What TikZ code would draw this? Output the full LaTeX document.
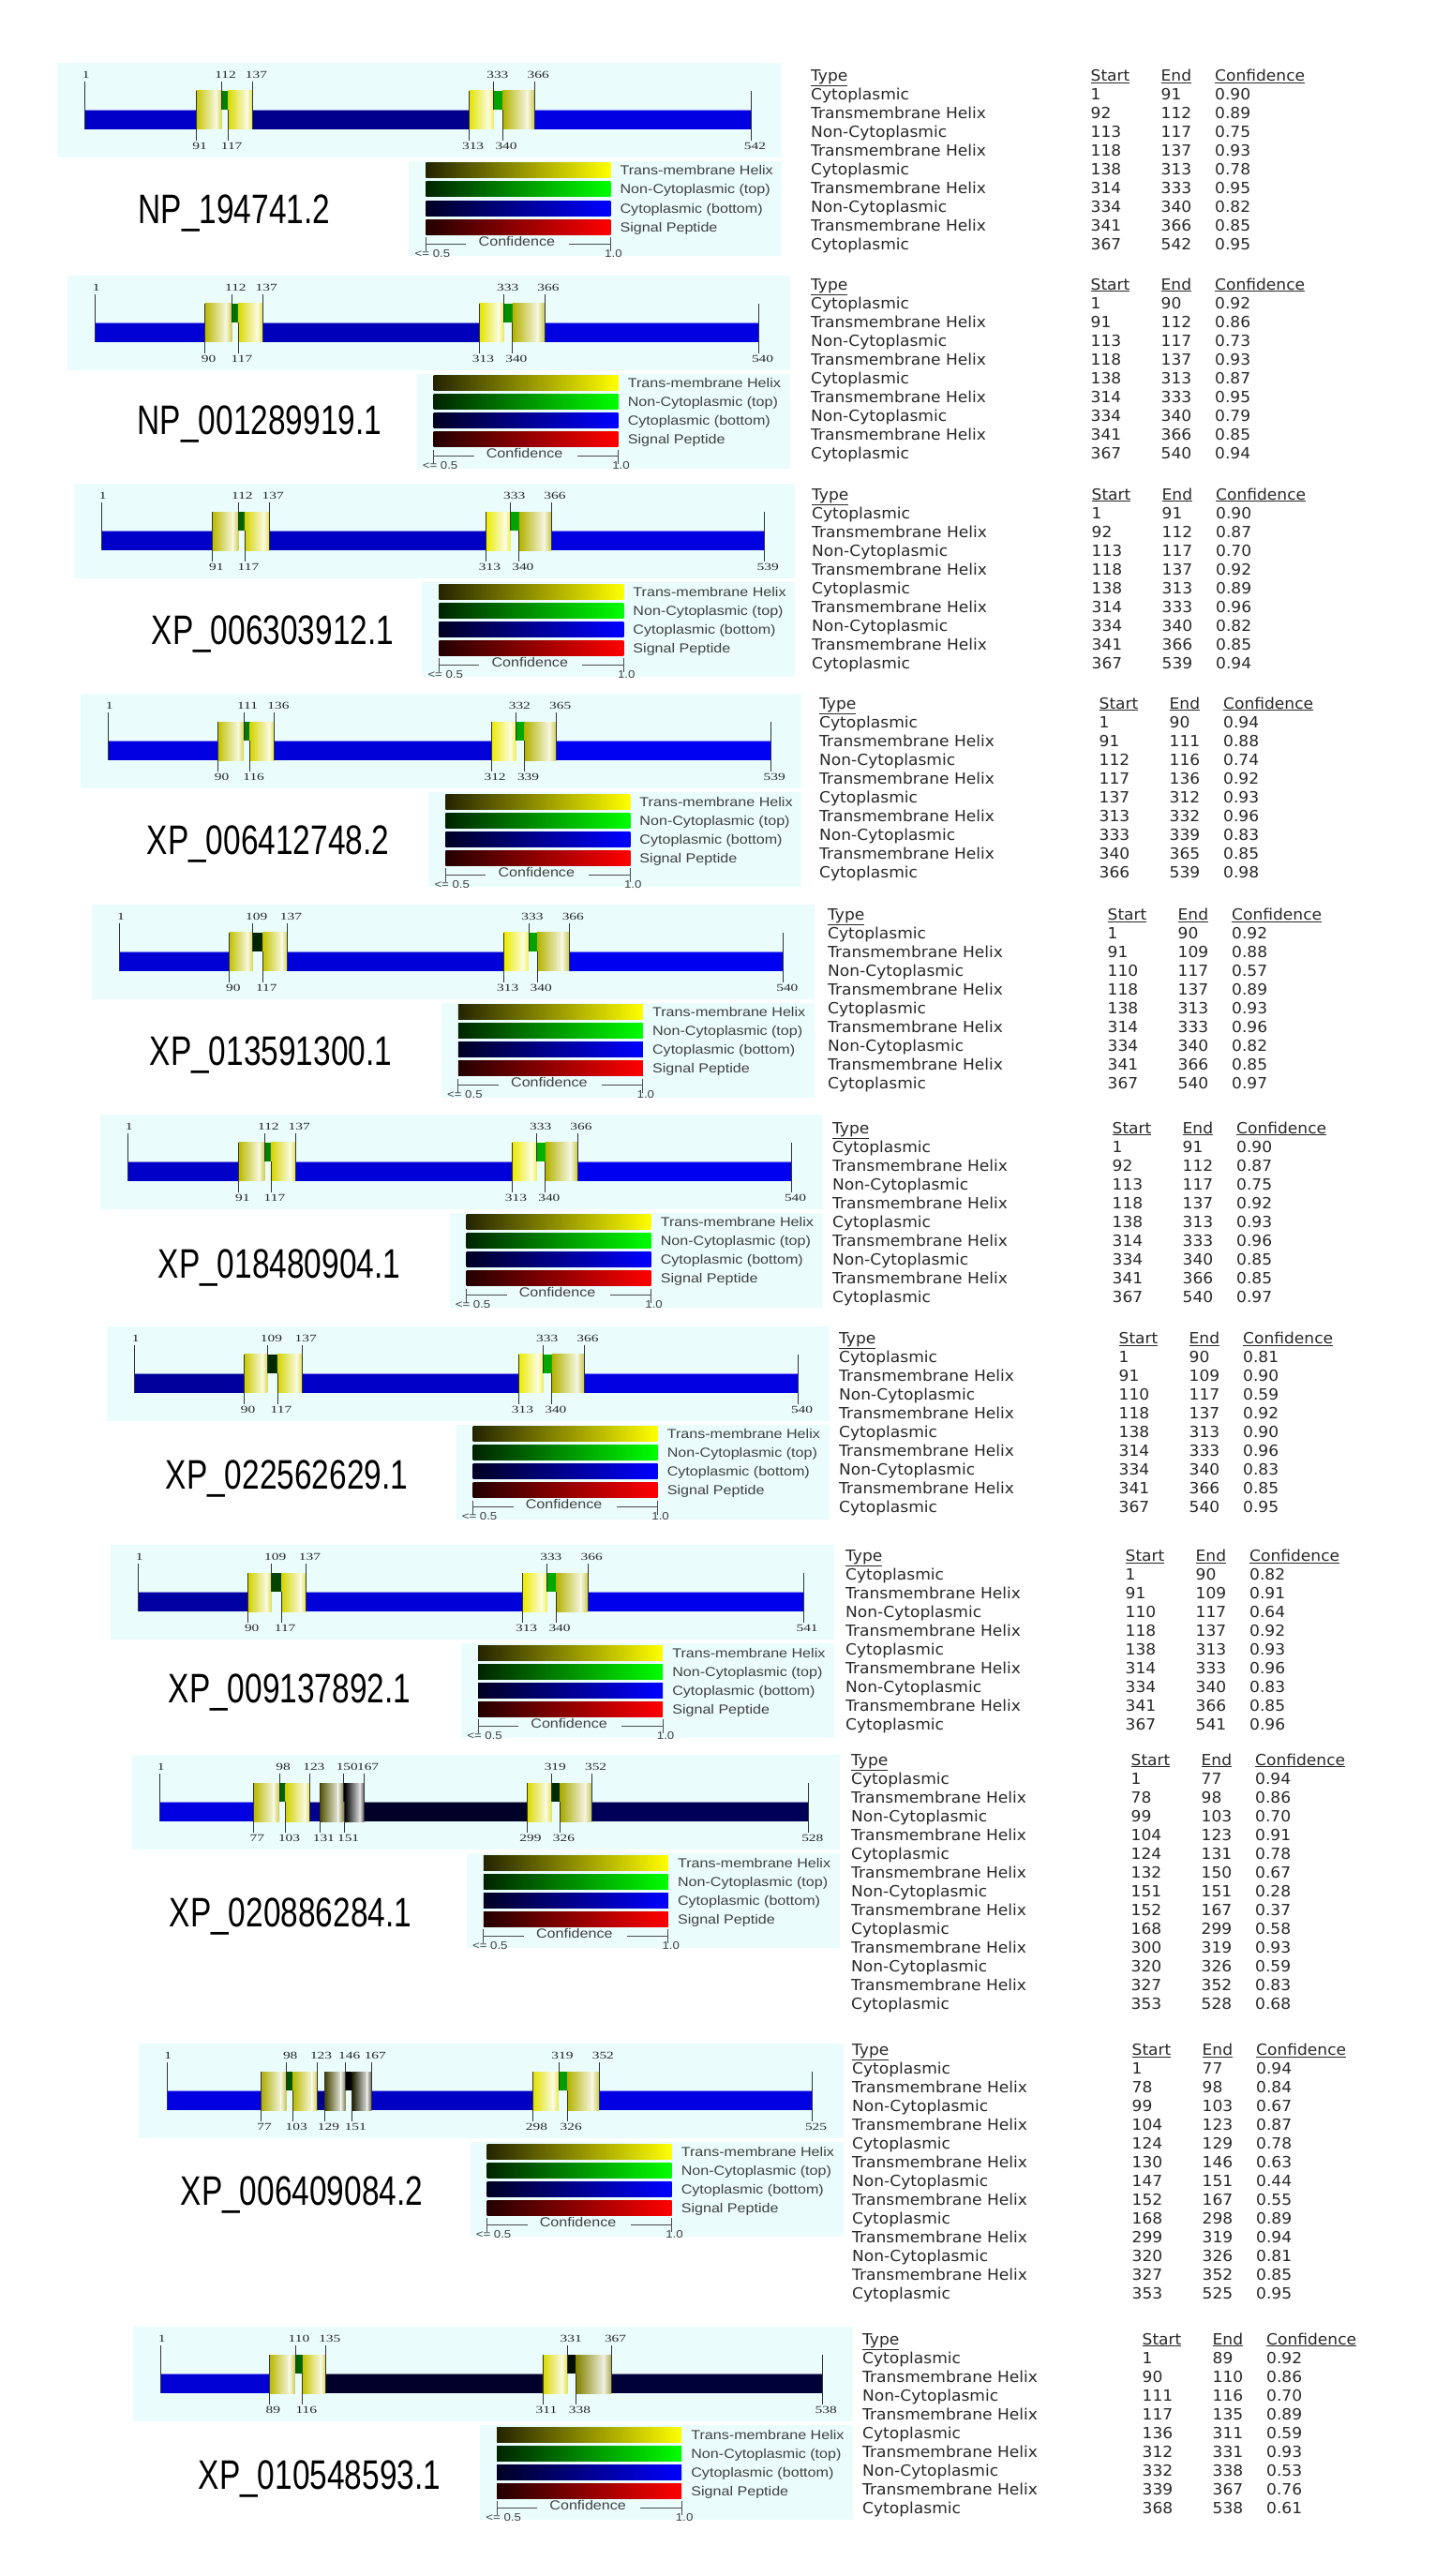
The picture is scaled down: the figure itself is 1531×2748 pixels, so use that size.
\documentclass[tikz,border=0pt]{standalone}
\usepackage{fontspec}
\setmainfont{Liberation Sans}
\newfontfamily\tabf[FakeStretch=1.04]{DejaVu Sans}
\newfontfamily\tickf[FakeStretch=1.4]{Liberation Serif}
\newfontfamily\legf[FakeStretch=1.15]{Liberation Sans}
\newfontfamily\namef[FakeStretch=0.76]{Liberation Sans}
\definecolor{panelbg}{RGB}{234,252,252}
\definecolor{txt}{RGB}{40,40,40}
\tikzset{
  tickline/.style={draw=black!80, line width=0.9pt},
  ticklab/.style={font=\tickf\fontsize{11}{11}\selectfont, text=black!85, inner sep=0pt, text height=7.5pt, text depth=0pt},
  tabtxt/.style={font=\tabf\fontsize{16.4}{17}\selectfont, text=txt, anchor=west, inner sep=0pt, text height=12pt, text depth=0pt},
  legtxt/.style={font=\legf\fontsize{14}{14}\selectfont, text=black!75, anchor=west, inner sep=0pt, text height=10pt, text depth=0pt},
  smalltxt/.style={font=\legf\fontsize{11.5}{12}\selectfont, text=black!75, inner sep=0pt, text height=8pt, text depth=0pt},
  nametxt/.style={font=\namef\fontsize{44}{44}\selectfont, text=black, inner sep=0pt, text height=31.5pt, text depth=0pt},
  scaleline/.style={draw=black!70, line width=0.9pt}
}
\newcommand\kres{1.3135}
% #1 id, #2 X0, #3 L, #4 TX, #5 TY, #6 name, #7 name position, #8 segments
\newcommand\drawpanel[8]{%
  \foreach \ty/\en/\cf in {#8}{\xdef\lastend{\en}}
  \pgfmathsetmacro\xend{#2+(\lastend-1)*\kres}
  \pgfmathsetmacro\LX{\xend-140}
  \fill[panelbg] (#2-30,#3-13) rectangle (\xend+33,#3+88);
  \fill[panelbg] (\LX-225,#3+92) rectangle (\xend+33,#3+193);
  % segments
  \xdef\gpe{1}
  \foreach \ty/\en/\cf in {#8}{
    \pgfmathsetmacro\xa{#2+(\gpe-1)*\kres}
    \pgfmathsetmacro\xb{#2+(\en-1)*\kres}
    \pgfmathsetmacro\xm{\xa+0.78*(\xb-\xa)}
    \pgfmathtruncatemacro\ff{max(0,min(1,(\cf-0.5)/0.5))*100}
    \ifcase\ty\relax
      \colorlet{segc}{blue!\ff!black}
      \fill[segc] (\xa,#3+37) rectangle (\xb,#3+58);
      \draw[segc!45!white, line width=1.2pt] (\xa,#3+37.6) -- (\xb,#3+37.6);
    \or
      \colorlet{segc}{yellow!\ff!black}
      \shade[left color=segc, right color=white!88!segc] (\xa,#3+17) rectangle (\xm,#3+58);
      \shade[left color=white!88!segc, right color=segc!70!white] (\xm-0.2,#3+17) rectangle (\xb,#3+58);
    \or
      \colorlet{segc}{green!\ff!black}
      \fill[segc] (\xa,#3+17) rectangle (\xb,#3+37);
    \fi
    \xdef\gpe{\en}
  }
  % ticks
  \xdef\gpe{1}\xdef\gpty{9}
  \foreach \ty/\en/\cf in {#8}{
    \pgfmathsetmacro\xa{#2+(\gpe-1)*\kres}
    \ifnum\gpty=1\relax
      \ifnum\ty=2\relax \def\yb{37}\else\def\yb{58}\fi
      \draw[tickline] (\xa,#3+7) -- (\xa,#3+\yb);
      \node[ticklab] (p#1t\gpe) at (\xa+4,#3) {\gpe};
    \fi
    \ifnum\gpty=0\relax
      \draw[tickline] (\xa,#3+17) -- (\xa,#3+70);
      \node[ticklab] (p#1t\gpe) at (\xa+4,#3+76) {\gpe};
    \fi
    \ifnum\gpty=2\relax
      \draw[tickline] (\xa,#3+37) -- (\xa,#3+70);
      \node[ticklab] (p#1t\gpe) at (\xa+4,#3+76) {\gpe};
    \fi
    \xdef\gpe{\en}\xdef\gpty{\ty}
  }
  \draw[tickline] (#2,#3+7) -- (#2,#3+58);
  \node[ticklab] (p#1tfirst) at (#2+1,#3) {1};
  \draw[tickline] (\xend,#3+17) -- (\xend,#3+70);
  \node[ticklab] (p#1tlast) at (\xend+4,#3+76) {\lastend};
  % legend
  \foreach \c/\lab [count=\j] in {yellow/{Trans-membrane Helix}, green/{Non-Cytoplasmic (top)}, blue/{Cytoplasmic (bottom)}, red/{Signal Peptide}}{
    \pgfmathsetmacro\yc{#3+82+20*\j}
    \shade[left color=\c!14!black, right color=\c] (\LX-207,\yc-8) rectangle (\LX-10,\yc+8);
    \node[legtxt] (p#1leg\j) at (\LX,\yc) {\lab};
  }
  \draw[scaleline] (\LX-207,#3+180) -- (\LX-164,#3+180);
  \draw[scaleline] (\LX-54,#3+180) -- (\LX-10,#3+180);
  \draw[scaleline] (\LX-207,#3+173) -- (\LX-207,#3+188);
  \draw[scaleline] (\LX-10,#3+173) -- (\LX-10,#3+188);
  \node[legtxt, anchor=center] (p#1conf) at (\LX-110,#3+177) {Confidence};
  \node[smalltxt] (p#1lo) at (\LX-200,#3+190) {<= 0.5};
  \node[smalltxt] (p#1hi) at (\LX-7,#3+190) {1.0};
  % name
  \node[nametxt] (p#1name) at (#7) {#6};
  % table
  \node[tabtxt] (p#1hT) at (#4,#5) {\underline{Type}};
  \node[tabtxt] (p#1hS) at (#4+298.5,#5) {\underline{Start}};
  \node[tabtxt] (p#1hE) at (#4+373.5,#5) {\underline{End}};
  \node[tabtxt] (p#1hC) at (#4+431,#5) {\underline{Confidence}};
  \xdef\gpe{0}
  \foreach \ty/\en/\cf [count=\i] in {#8}{
    \pgfmathtruncatemacro\st{\gpe+1}
    \node[tabtxt] (p#1r\i a) at (#4,#5+20*\i) {\ifcase\ty\relax Cytoplasmic\or Transmembrane Helix\or Non-Cytoplasmic\fi};
    \node[tabtxt] (p#1r\i b) at (#4+298.5,#5+20*\i) {\st};
    \node[tabtxt] (p#1r\i c) at (#4+373.5,#5+20*\i) {\en};
    \node[tabtxt] (p#1r\i d) at (#4+431,#5+20*\i) {\cf};
    \xdef\gpe{\en}
  }
}
\begin{document}
\begin{tikzpicture}[x=1pt,y=-1pt]
\useasboundingbox (0,0) rectangle (1531,2748);
\fill[white] (0,0) rectangle (1531,2748);
\drawpanel{1}{90.8}{80}{865}{80.7}{NP\_194741.2}{250,223}{0/91/0.90, 1/112/0.89, 2/117/0.75, 1/137/0.93, 0/313/0.78, 1/333/0.95, 2/340/0.82, 1/366/0.85, 0/542/0.95}
\drawpanel{2}{101.6}{306.5}{865}{303}{NP\_001289919.1}{277,448}{0/90/0.92, 1/112/0.86, 2/117/0.73, 1/137/0.93, 0/313/0.87, 1/333/0.95, 2/340/0.79, 1/366/0.85, 0/540/0.94}
\drawpanel{3}{108.6}{529}{866}{527}{XP\_006303912.1}{291,672}{0/91/0.90, 1/112/0.87, 2/117/0.70, 1/137/0.92, 0/313/0.89, 1/333/0.96, 2/340/0.82, 1/366/0.85, 0/539/0.94}
\drawpanel{4}{115.6}{753}{874}{750}{XP\_006412748.2}{286,896}{0/90/0.94, 1/111/0.88, 2/116/0.74, 1/136/0.92, 0/312/0.93, 1/332/0.96, 2/339/0.83, 1/365/0.85, 0/539/0.98}
\drawpanel{5}{127.9}{977.5}{883}{975.7}{XP\_013591300.1}{289,1121}{0/90/0.92, 1/109/0.88, 2/117/0.57, 1/137/0.89, 0/313/0.93, 1/333/0.96, 2/340/0.82, 1/366/0.85, 0/540/0.97}
\drawpanel{6}{136.6}{1201.7}{888}{1203}{XP\_018480904.1}{298,1348}{0/91/0.90, 1/112/0.87, 2/117/0.75, 1/137/0.92, 0/313/0.93, 1/333/0.96, 2/340/0.85, 1/366/0.85, 0/540/0.97}
\drawpanel{7}{143.6}{1427.6}{895}{1427.6}{XP\_022562629.1}{306,1573}{0/90/0.81, 1/109/0.90, 2/117/0.59, 1/137/0.92, 0/313/0.90, 1/333/0.96, 2/340/0.83, 1/366/0.85, 0/540/0.95}
\drawpanel{8}{147.8}{1661}{902}{1659.3}{XP\_009137892.1}{309,1801}{0/90/0.82, 1/109/0.91, 2/117/0.64, 1/137/0.92, 0/313/0.93, 1/333/0.96, 2/340/0.83, 1/366/0.85, 0/541/0.96}
\drawpanel{9}{170.6}{1885}{908}{1877}{XP\_020886284.1}{310,2040}{0/77/0.94, 1/98/0.86, 2/103/0.70, 1/123/0.91, 0/131/0.78, 1/150/0.67, 2/151/0.28, 1/167/0.37, 0/299/0.58, 1/319/0.93, 2/326/0.59, 1/352/0.83, 0/528/0.68}
\drawpanel{10}{178.3}{2193}{909}{2186.7}{XP\_006409084.2}{322,2337}{0/77/0.94, 1/98/0.84, 2/103/0.67, 1/123/0.87, 0/129/0.78, 1/146/0.63, 2/151/0.44, 1/167/0.55, 0/298/0.89, 1/319/0.94, 2/326/0.81, 1/352/0.85, 0/525/0.95}
\drawpanel{11}{171.8}{2495}{920}{2495}{XP\_010548593.1}{341,2640}{0/89/0.92, 1/110/0.86, 2/116/0.70, 1/135/0.89, 0/311/0.59, 1/331/0.93, 2/338/0.53, 1/367/0.76, 0/538/0.61}
\end{tikzpicture}
\end{document}
